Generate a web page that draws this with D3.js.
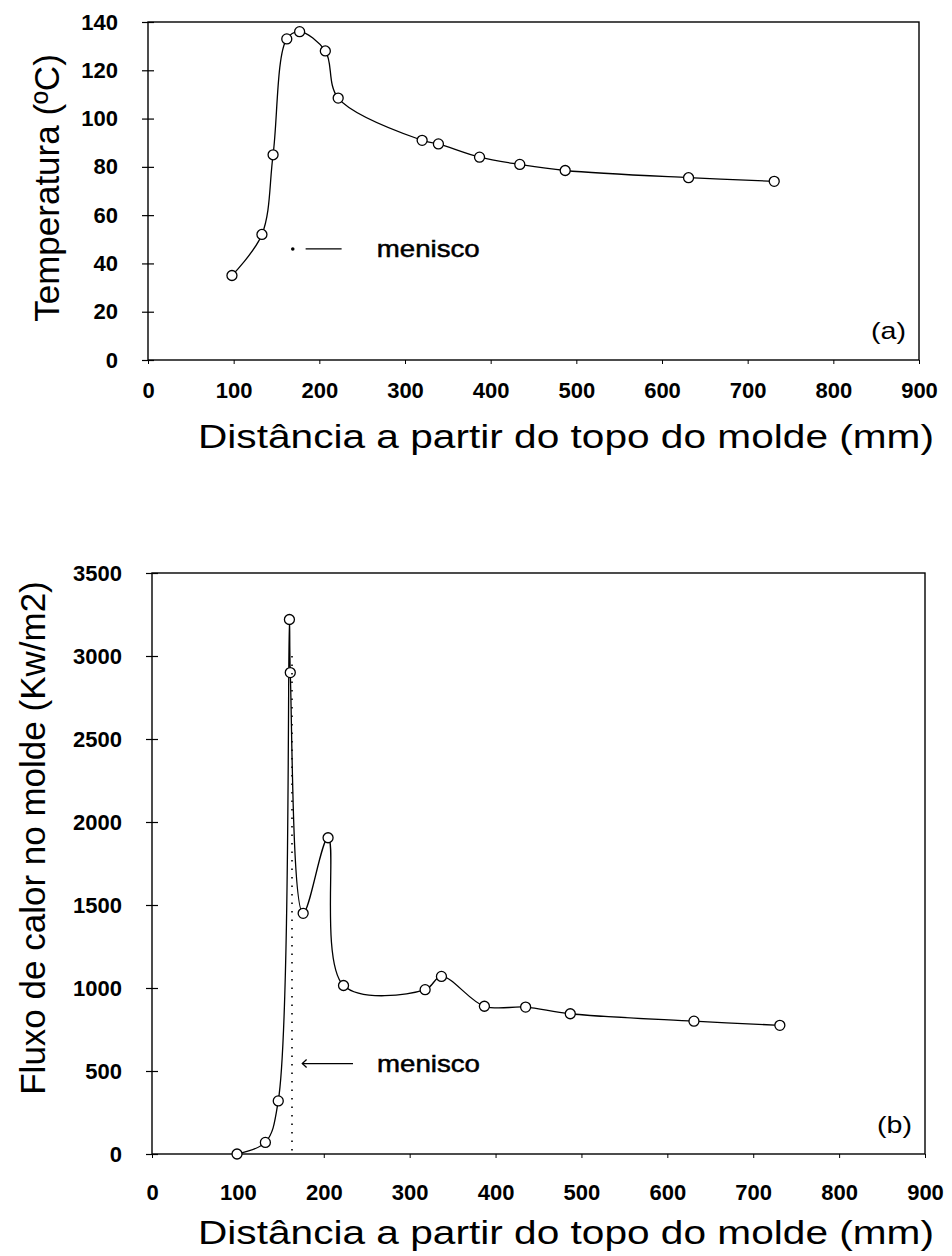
<!DOCTYPE html>
<html>
<head>
<meta charset="utf-8">
<script src="https://cdn.jsdelivr.net/npm/d3@7"></script>
<style>
  html, body { margin: 0; padding: 0; background: #fff; }
  svg { display: block; }
  text { font-family: "Liberation Sans", Arial, sans-serif; fill: #000; }
</style>
</head>
<body>
<svg id="chart" width="952" height="1256"></svg>
<script>
// Mould temperature profile, panel (a)
const tempDist = [98, 133, 146, 162, 177, 207, 222, 320, 339, 387, 434, 487, 631, 731];
const tempVal  = [35, 52, 85, 133, 136, 128, 108.5, 91, 89.5, 84, 81, 78.5, 75.5, 74];

// Mould heat flux profile, panel (b)
const fluxDist = [99, 132, 147, 160, 161, 176, 205, 223, 318, 337, 387, 435, 487, 631, 731];
const fluxVal  = [0, 70, 320, 3220, 2900, 1450, 1905, 1015, 990, 1070, 890, 885, 845, 800, 775];

// Axis ticks
const xTicks = [0, 100, 200, 300, 400, 500, 600, 700, 800, 900];
const tempTicks = [0, 20, 40, 60, 80, 100, 120, 140];
const fluxTicks = [0, 500, 1000, 1500, 2000, 2500, 3000, 3500];

// Meniscus position (mm)
const meniscusA = 169;
const meniscusB = 163;

const svg = d3.select("#chart");
svg.append("rect").attr("width", 952).attr("height", 1256).attr("fill", "#fff");

function panel(cfg) {
  const x = d3.scaleLinear().domain([0, 900]).range([cfg.left, cfg.right]);
  const y = d3.scaleLinear().domain([0, cfg.yMax]).range([cfg.bottom, cfg.top]);
  const g = svg.append("g");

  // plot frame
  g.append("rect")
    .attr("x", cfg.left).attr("y", cfg.top)
    .attr("width", cfg.right - cfg.left).attr("height", cfg.bottom - cfg.top)
    .attr("fill", "none").attr("stroke", "#000").attr("stroke-width", 1.4);

  // y axis with ticks crossing the frame line
  const ya = g.append("g").attr("transform", `translate(${cfg.left},0)`)
    .call(d3.axisLeft(y).tickValues(cfg.yTicks).tickSize(6).tickPadding(24).tickFormat(d3.format("d")));
  ya.select(".domain").remove();
  ya.selectAll(".tick line").attr("x1", 6).attr("stroke-width", 1.2);
  ya.selectAll(".tick text")
    .style("font-size", "22px").style("font-weight", "bold")
    .style("font-family", '"Liberation Sans", Arial, sans-serif');

  // x axis
  const xa = g.append("g").attr("transform", `translate(0,${cfg.bottom})`)
    .call(d3.axisBottom(x).tickValues(xTicks).tickSize(4).tickPadding(cfg.xPad).tickFormat(d3.format("d")));
  xa.select(".domain").remove();
  xa.selectAll(".tick line").attr("stroke-width", 1);
  xa.selectAll(".tick text")
    .style("font-size", "22px").style("font-weight", "bold")
    .style("font-family", '"Liberation Sans", Arial, sans-serif');

  // axis titles
  svg.append("text")
    .attr("transform", `translate(${cfg.yTitleX},${cfg.yTitleY}) rotate(-90)`)
    .attr("text-anchor", "middle").attr("dominant-baseline", "central")
    .style("font-size", "35px")
    .text(cfg.yTitle);
  svg.append("text")
    .attr("x", 566).attr("y", cfg.xTitleY)
    .attr("text-anchor", "middle").attr("dominant-baseline", "central")
    .attr("textLength", 736).attr("lengthAdjust", "spacingAndGlyphs")
    .style("font-size", "34px")
    .text("Distância a partir do topo do molde (mm)");

  // panel tag
  svg.append("text")
    .attr("x", cfg.right - 13).attr("y", cfg.tagY)
    .attr("text-anchor", "end").attr("dominant-baseline", "central")
    .attr("textLength", 35).attr("lengthAdjust", "spacingAndGlyphs")
    .style("font-size", "24px")
    .text(cfg.tag);

  // data curve and markers
  const pts = cfg.xs.map((d, i) => [d, cfg.ys[i]]);
  g.append("path")
    .datum(pts)
    .attr("fill", "none").attr("stroke", "#000").attr("stroke-width", 1.3)
    .attr("d", d3.line().x(d => x(d[0])).y(d => y(d[1])).curve(d3.curveCatmullRom.alpha(0.5)));
  g.selectAll("circle.pt").data(pts).enter().append("circle")
    .attr("class", "pt")
    .attr("cx", d => x(d[0])).attr("cy", d => y(d[1])).attr("r", 5)
    .attr("fill", "#fff").attr("stroke", "#000").attr("stroke-width", 1.3);

  return { x, y, g };
}

function meniscusLabel(P, xmm, yv) {
  P.g.append("text")
    .attr("x", P.x(xmm)).attr("y", P.y(yv))
    .attr("dominant-baseline", "central")
    .attr("textLength", 103).attr("lengthAdjust", "spacingAndGlyphs")
    .attr("stroke", "#000").attr("stroke-width", 0.5)
    .style("font-size", "24px")
    .text("menisco");
}

// ---- panel (a)
const A = panel({
  left: 148, right: 919, top: 22, bottom: 360, yMax: 140,
  yTicks: tempTicks, xPad: 18,
  xs: tempDist, ys: tempVal,
  yTitle: "Temperatura (ºC)", yTitleX: 46, yTitleY: 188,
  xTitleY: 436, tag: "(a)", tagY: 330
});
// meniscus marker for (a)
A.g.append("circle").attr("cx", A.x(meniscusA)).attr("cy", A.y(46)).attr("r", 1.8).attr("fill", "#000");
A.g.append("line")
  .attr("x1", A.x(184)).attr("x2", A.x(226)).attr("y1", A.y(46)).attr("y2", A.y(46))
  .attr("stroke", "#000").attr("stroke-width", 1.3);
meniscusLabel(A, 267, 46);

// ---- panel (b)
const B = panel({
  left: 152, right: 925, top: 573, bottom: 1154, yMax: 3500,
  yTicks: fluxTicks, xPad: 26,
  xs: fluxDist, ys: fluxVal,
  yTitle: "Fluxo de calor no molde (Kw/m2)", yTitleX: 32, yTitleY: 838,
  xTitleY: 1232, tag: "(b)", tagY: 1124
});
// meniscus dotted line and arrow for (b)
B.g.append("line")
  .attr("x1", B.x(meniscusB)).attr("x2", B.x(meniscusB))
  .attr("y1", B.y(3000)).attr("y2", B.y(0))
  .attr("stroke", "#000").attr("stroke-width", 1.6).attr("stroke-dasharray", "1.5,7");
B.g.append("line")
  .attr("x1", B.x(175)).attr("x2", B.x(234)).attr("y1", B.y(545)).attr("y2", B.y(545))
  .attr("stroke", "#000").attr("stroke-width", 1.3);
B.g.append("path")
  .attr("d", `M${B.x(180)},${B.y(545) - 4} L${B.x(175)},${B.y(545)} L${B.x(180)},${B.y(545) + 4}`)
  .attr("fill", "none").attr("stroke", "#000").attr("stroke-width", 1.3);
meniscusLabel(B, 262, 545);
</script>
</body>
</html>
